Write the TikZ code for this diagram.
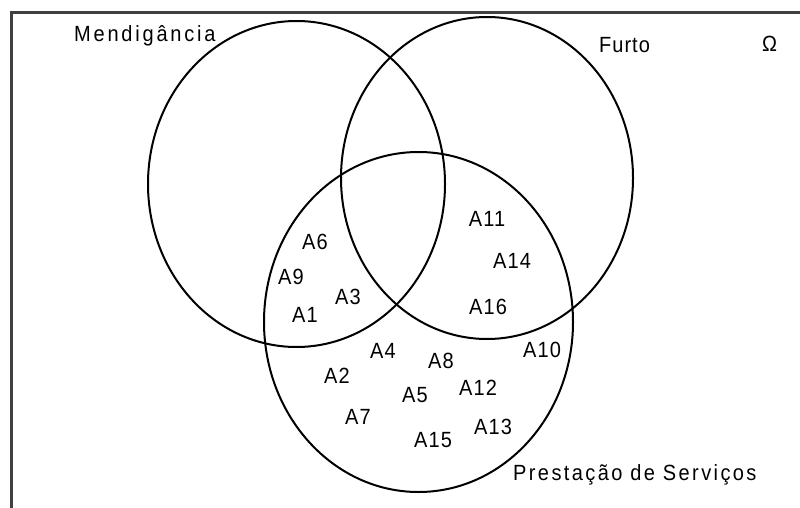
\documentclass[tikz,border=0pt]{standalone}
\usepackage{graphicx}
\usepackage{fontspec}
\setmainfont{Liberation Sans}
\newfontfamily\labA[LetterSpace=6]{Liberation Sans}
\newfontfamily\labP[LetterSpace=12]{Liberation Sans}
\newfontfamily\labM[LetterSpace=14]{Liberation Sans}
\newfontfamily\labF[LetterSpace=5]{Liberation Sans}
\usetikzlibrary{shapes.geometric}
\newcommand{\vsc}[1]{\scalebox{1}[1.1]{#1}}
\begin{document}
\begin{tikzpicture}[x=1pt,y=-1pt,
  setshape/.style={draw=black, line width=2pt, ellipse, inner sep=0pt, outer sep=0pt},
  framel/.style={draw=black!75, line width=3pt},
  lbl/.style={anchor=base, inner sep=0pt, font=\labA\fontsize{20pt}{24pt}\selectfont},
  setlbl/.style={anchor=base west, inner sep=0pt}]
\useasboundingbox (0,0) rectangle (800,508);
\fill[white] (0,0) rectangle (800,508);
% frame
\coordinate (fb) at (11,510);
\coordinate (fc) at (11,12.5);
\coordinate (fe) at (802,12.5);
\draw[framel] (fb) -- (fc) -- (fe);
% sets
\node[setshape, minimum width=297pt, minimum height=326pt] (M) at (296.5,184) {};
\node[setshape, minimum width=292pt, minimum height=322pt] (F) at (487,178) {};
\node[setshape, minimum width=309pt, minimum height=340pt] (P) at (418.5,322) {};
% set labels
\node[setlbl, font=\labM\fontsize{20pt}{24pt}\selectfont] (tM) at (74,42) {\vsc{Mendigância}};
\node[setlbl, font=\labF\fontsize{20pt}{24pt}\selectfont] (tF) at (599,53) {\vsc{Furto}};
\node[anchor=base, inner sep=0pt, font=\fontsize{20pt}{24pt}\selectfont] (tO) at (769.5,52) {\vsc{Ω}};
\node[setlbl, font=\labP\fontsize{20pt}{24pt}\selectfont] (tP) at (513,480) {\vsc{Prestação de Serviços}};
% elements
\node[lbl] (a6) at (315,249.5) {\vsc{A6}};
\node[lbl] (a9) at (291,284.5) {\vsc{A9}};
\node[lbl] (a1) at (305,322.5) {\vsc{A1}};
\node[lbl] (a3) at (348,304.5) {\vsc{A3}};
\node[lbl] (a11) at (487,226.5) {\vsc{A11}};
\node[lbl] (a14) at (512,268.5) {\vsc{A14}};
\node[lbl] (a16) at (488,314.5) {\vsc{A16}};
\node[lbl] (a4) at (383,358.5) {\vsc{A4}};
\node[lbl] (a8) at (441,368.5) {\vsc{A8}};
\node[lbl] (a10) at (542,357.5) {\vsc{A10}};
\node[lbl] (a2) at (337,383.5) {\vsc{A2}};
\node[lbl] (a5) at (415,402.5) {\vsc{A5}};
\node[lbl] (a12) at (478,395.5) {\vsc{A12}};
\node[lbl] (a7) at (358,424.5) {\vsc{A7}};
\node[lbl] (a13) at (493,434.5) {\vsc{A13}};
\node[lbl] (a15) at (433,447.5) {\vsc{A15}};
\end{tikzpicture}
\end{document}
